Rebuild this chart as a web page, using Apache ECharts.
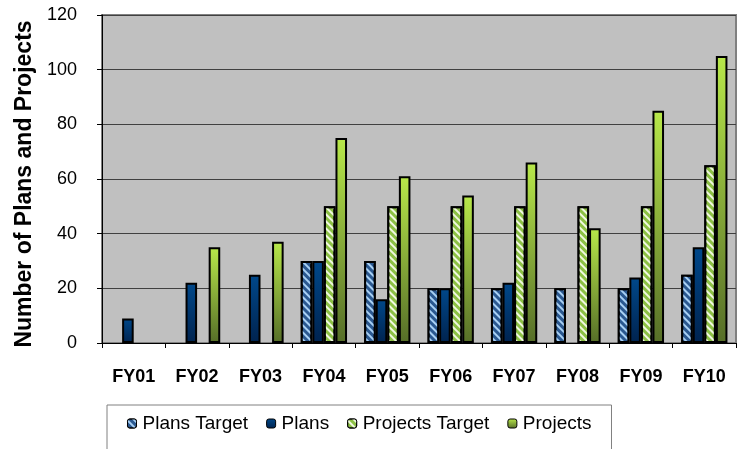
<!DOCTYPE html>
<html><head><meta charset="utf-8">
<script src="https://cdn.jsdelivr.net/npm/echarts@6/dist/echarts.min.js"></script>
<style>html,body{margin:0;padding:0;background:#fff}#c{width:740px;height:449px}</style>
</head><body><div id="c"></div>
<script>
const categories = ['FY01','FY02','FY03','FY04','FY05','FY06','FY07','FY08','FY09','FY10'];
const plansTarget = [null, null, null, 30, 30, 20, 20, 20, 20, 25];
const plans = [9, 22, 25, 30, 16, 20, 22, null, 24, 35];
const projectsTarget = [null, null, null, 50, 50, 50, 50, 50, 50, 65];
const projects = [null, 35, 37, 75, 61, 54, 66, 42, 85, 105];
const yTicks = [0, 20, 40, 60, 80, 100, 120];

const font = '"Liberation Sans", Arial, sans-serif';
const grad = (a, b) => new echarts.graphic.LinearGradient(0, 0, 0, 1, [{offset: 0, color: a}, {offset: 1, color: b}]);
const stripes = (c) => ({symbol: 'rect', symbolSize: 1, color: c, dashArrayX: [1, 0], dashArrayY: [2, 2.5], rotation: Math.PI / 4});

const chart = echarts.init(document.getElementById('c'), null, {renderer: 'canvas'});
chart.setOption({
  animation: false,
  backgroundColor: '#ffffff',
  grid: {left: 102, right: 4, top: 15, bottom: 106, show: true, backgroundColor: '#c0c0c0', borderColor: '#808080', borderWidth: 2},
  legend: {
    left: 107, top: 405, padding: [9, 20, 60, 20], itemGap: 18, itemWidth: 9, itemHeight: 9,
    borderColor: '#808080', borderWidth: 1,
    itemStyle: {borderColor: '#000', borderWidth: 1},
    textStyle: {fontFamily: font, fontSize: 19, color: '#000', padding: [0, 0, 0, 1]},
    data: ['Plans Target', 'Plans', 'Projects Target', 'Projects']
  },
  xAxis: {
    type: 'category', data: categories,
    axisLine: {lineStyle: {color: '#000', width: 1}},
    axisTick: {show: true, length: 5, lineStyle: {color: '#000'}},
    axisLabel: {fontFamily: font, fontSize: 18, fontWeight: 'bold', color: '#000', margin: 25},
    splitLine: {show: false}
  },
  yAxis: {
    type: 'value', min: yTicks[0], max: yTicks[yTicks.length - 1], interval: 20,
    name: 'Number of Plans and Projects', nameLocation: 'middle', nameGap: 66,
    nameTextStyle: {fontFamily: font, fontSize: 23, fontWeight: 'bold', color: '#000', padding: [0, 10, 0, 0]},
    axisLine: {show: true, lineStyle: {color: '#000'}},
    axisTick: {show: true, length: 5, lineStyle: {color: '#000'}},
    axisLabel: {fontFamily: font, fontSize: 18, color: '#000', margin: 25},
    splitLine: {lineStyle: {color: '#404040', width: 1}}
  },
  series: [
    {name: 'Plans Target', type: 'bar', data: plansTarget, barGap: '0%', barCategoryGap: '27%',
     itemStyle: {color: '#2a5890', borderColor: '#000', borderWidth: 2, decal: stripes('#a8d0f4')}},
    {name: 'Plans', type: 'bar', data: plans,
     itemStyle: {color: grad('#00488a', '#00234f'), borderColor: '#000', borderWidth: 2}},
    {name: 'Projects Target', type: 'bar', data: projectsTarget,
     itemStyle: {color: '#8cc044', borderColor: '#000', borderWidth: 2, decal: stripes('#f0f8e0')}},
    {name: 'Projects', type: 'bar', data: projects,
     itemStyle: {color: grad('#b8e84a', '#566e28'), borderColor: '#000', borderWidth: 2}}
  ]
});
</script></body></html>
